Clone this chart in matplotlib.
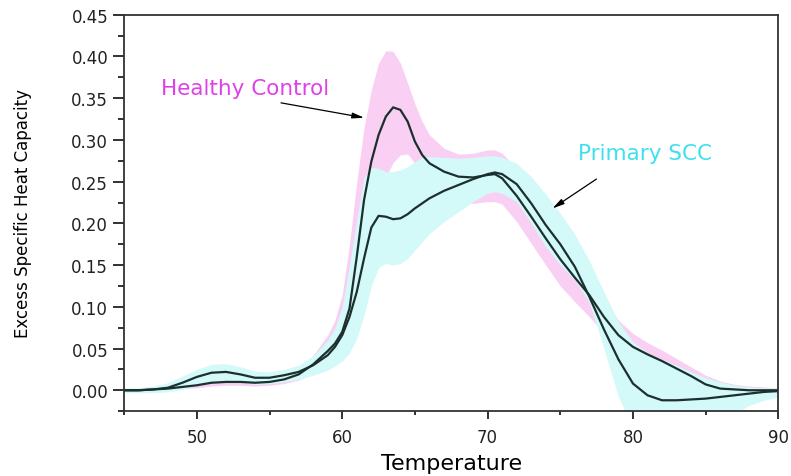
import numpy as np
import matplotlib.pyplot as plt
from matplotlib.ticker import MultipleLocator

# temperature grid (deg C) the curves were read on
temp = [45, 46, 47, 48, 49, 50, 51, 52, 53, 54, 55, 56, 57, 58, 59, 59.5, 60, 60.5, 61, 61.5,
        62, 62.5, 63, 63.5, 64, 64.5, 65, 65.5, 66, 67, 68, 69, 70, 70.5, 71, 72, 73, 74, 75, 76,
        77, 78, 79, 80, 81, 82, 83, 84, 85, 86, 87, 88, 89, 90]

# healthy control mean curve and its band
healthy = [0.000, 0.000, 0.001, 0.002, 0.004, 0.006, 0.009, 0.010, 0.010, 0.009, 0.010, 0.013, 0.019, 0.031,
           0.047, 0.056, 0.070, 0.098, 0.160, 0.228, 0.274, 0.306, 0.328, 0.339, 0.336, 0.322, 0.298, 0.282,
           0.272, 0.262, 0.256, 0.255, 0.258, 0.259, 0.254, 0.233, 0.208, 0.182, 0.157, 0.135, 0.114, 0.088,
           0.066, 0.052, 0.043, 0.035, 0.026, 0.017, 0.007, 0.002, 0.001, 0.000, 0.000, 0.000]
healthy_hi = [0.002, 0.002, 0.003, 0.005, 0.007, 0.010, 0.013, 0.014, 0.014, 0.013, 0.014, 0.018, 0.026, 0.042,
              0.066, 0.084, 0.115, 0.175, 0.250, 0.315, 0.360, 0.392, 0.407, 0.406, 0.392, 0.368, 0.343, 0.322,
              0.306, 0.290, 0.283, 0.284, 0.288, 0.288, 0.284, 0.266, 0.242, 0.213, 0.182, 0.157, 0.134, 0.108,
              0.084, 0.068, 0.057, 0.048, 0.038, 0.028, 0.018, 0.011, 0.007, 0.005, 0.004, 0.003]
healthy_lo = [-0.002, -0.002, -0.001, 0.000, 0.002, 0.003, 0.005, 0.006, 0.006, 0.005, 0.006, 0.008, 0.012, 0.020,
              0.028, 0.033, 0.040, 0.052, 0.080, 0.125, 0.180, 0.222, 0.255, 0.273, 0.282, 0.283, 0.272, 0.258,
              0.246, 0.234, 0.226, 0.224, 0.226, 0.226, 0.223, 0.202, 0.176, 0.150, 0.125, 0.106, 0.088, 0.068,
              0.050, 0.038, 0.030, 0.023, 0.015, 0.007, -0.001, -0.005, -0.005, -0.005, -0.004, -0.003]

# primary SCC mean curve and its band
scc = [0.000, 0.000, 0.001, 0.003, 0.009, 0.016, 0.021, 0.022, 0.019, 0.015, 0.015, 0.018, 0.022, 0.030,
       0.042, 0.052, 0.066, 0.088, 0.118, 0.158, 0.195, 0.209, 0.208, 0.205, 0.206, 0.211, 0.218, 0.224,
       0.230, 0.239, 0.246, 0.253, 0.259, 0.261, 0.259, 0.247, 0.224, 0.198, 0.175, 0.148, 0.112, 0.073,
       0.037, 0.008, -0.006, -0.012, -0.012, -0.011, -0.010, -0.008, -0.006, -0.004, -0.002, -0.001]
scc_hi = [0.003, 0.003, 0.005, 0.009, 0.017, 0.025, 0.031, 0.032, 0.028, 0.023, 0.022, 0.025, 0.030, 0.041,
          0.060, 0.075, 0.100, 0.150, 0.205, 0.255, 0.267, 0.266, 0.262, 0.262, 0.264, 0.268, 0.274, 0.279,
          0.280, 0.279, 0.278, 0.279, 0.281, 0.281, 0.279, 0.272, 0.256, 0.235, 0.212, 0.187, 0.155, 0.118,
          0.082, 0.058, 0.045, 0.037, 0.030, 0.022, 0.015, 0.010, 0.006, 0.004, 0.003, 0.003]
scc_lo = [-0.003, -0.003, -0.003, -0.002, 0.001, 0.006, 0.010, 0.012, 0.010, 0.007, 0.008, 0.010, 0.013, 0.018,
          0.024, 0.029, 0.035, 0.045, 0.062, 0.090, 0.125, 0.147, 0.152, 0.150, 0.152, 0.158, 0.168, 0.178,
          0.188, 0.202, 0.214, 0.226, 0.236, 0.238, 0.236, 0.226, 0.200, 0.172, 0.150, 0.132, 0.105, 0.050,
          -0.008, -0.045, -0.060, -0.064, -0.062, -0.057, -0.050, -0.040, -0.028, -0.018, -0.012, -0.008]

line_col = '#1c2f2f'

plt.close("all")
fig = plt.figure(figsize=(7.91, 4.77), dpi=100)
ax = fig.add_axes([0.157, 0.136, 0.827, 0.831])

ax.fill_between(temp, healthy_lo, healthy_hi, color='#f9d0f3', lw=0)   # pink band behind
ax.fill_between(temp, scc_lo, scc_hi, color='#d4f9f9', lw=0)           # cyan band on top
ax.plot(temp, healthy, color=line_col, lw=1.6)
ax.plot(temp, scc, color=line_col, lw=1.6)

ax.text(47.5, 0.362, 'Healthy Control', color='#e040e8', fontsize=15.5, va='center')
ax.text(76.2, 0.284, 'Primary SCC', color='#3ee0ee', fontsize=15.5, va='center')
ax.annotate('', xy=(61.7, 0.326), xytext=(55.6, 0.345),
            arrowprops=dict(arrowstyle='-|>,head_length=0.7,head_width=0.17', color='k', lw=0.9))
ax.annotate('', xy=(74.3, 0.216), xytext=(77.65, 0.255),
            arrowprops=dict(arrowstyle='-|>,head_length=0.7,head_width=0.17', color='k', lw=0.9))

ax.set_xlim(45, 90)
ax.set_ylim(-0.025, 0.45)
ax.xaxis.set_major_locator(MultipleLocator(10))
ax.xaxis.set_minor_locator(MultipleLocator(5))
ax.yaxis.set_minor_locator(MultipleLocator(0.025))
ax.set_yticks(np.arange(0, 0.451, 0.05))
ax.set_yticklabels(['%.2f' % v for v in np.arange(0, 0.451, 0.05)])
ax.tick_params(axis='both', which='both', direction='out', width=1.3, colors='#222222', labelsize=12)
ax.tick_params(axis='y', which='major', length=8)
ax.tick_params(axis='y', which='minor', length=4)
ax.tick_params(axis='x', which='major', length=6, pad=6)
ax.tick_params(axis='x', which='minor', length=3)
for s in ax.spines.values():
    s.set_linewidth(1.3)
    s.set_color('#333333')

ax.set_xlabel('Temperature', fontsize=16, labelpad=5)
ax.set_ylabel('Excess Specific Heat Capacity', fontsize=12, labelpad=28)

fig.savefig('out.png', dpi=100)
